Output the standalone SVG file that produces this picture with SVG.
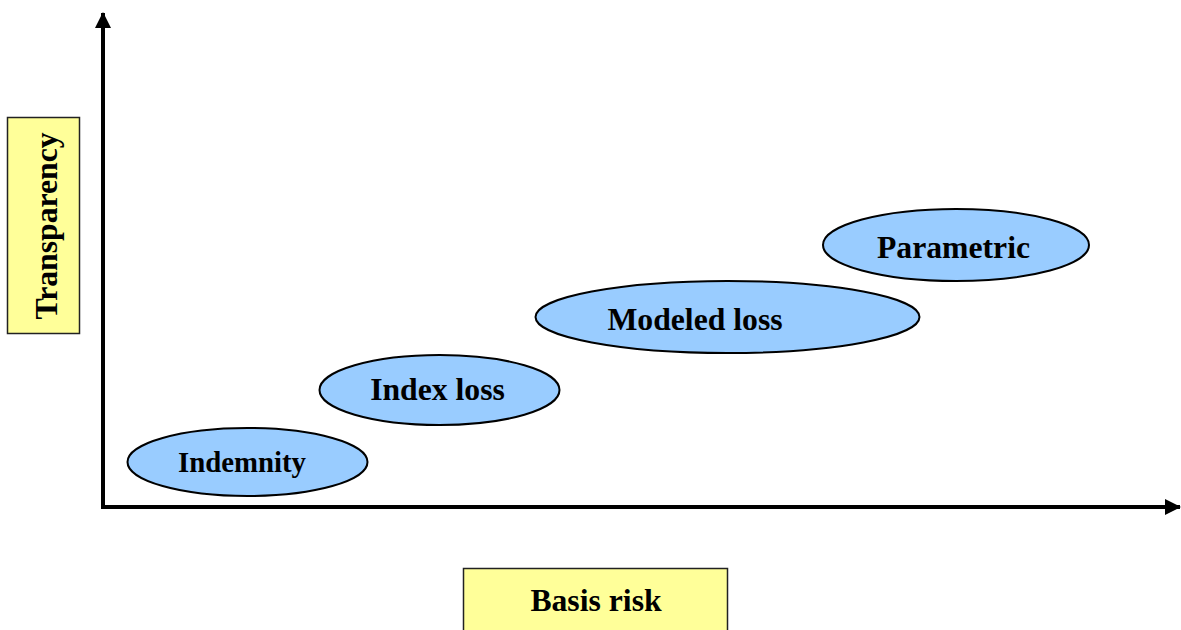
<svg xmlns="http://www.w3.org/2000/svg" width="1181" height="630" viewBox="0 0 1181 630">
<style>
.lbl{font-family:"Liberation Serif","Times New Roman",serif;font-weight:bold;font-size:31.7px;fill:#000;text-anchor:middle}
.node{fill:#99CCFF;stroke:#000;stroke-width:2}
.box{fill:#FFFF99;stroke:#222;stroke-width:1.5}
.axis{stroke:#000;stroke-width:4;fill:none}
</style>
<defs>
<marker id="ah" viewBox="0 0 16 16" refX="15" refY="8" markerWidth="16" markerHeight="16" markerUnits="userSpaceOnUse" orient="auto">
<path d="M0,0 L16,8 L0,16 Z" fill="#000"/>
</marker>
</defs>
<rect width="1181" height="630" fill="#fff"/>
<g id="connectors">
<line class="axis" x1="103" y1="509" x2="103" y2="13" marker-end="url(#ah)"/>
<line class="axis" x1="101" y1="507" x2="1180" y2="507" marker-end="url(#ah)"/>
</g>
<g id="transparency">
<rect class="box" x="7.5" y="117.5" width="72" height="216"/>
<text class="lbl" transform="translate(57,226) rotate(-90)">Transparency</text>
</g>
<g id="basis-risk">
<rect class="box" x="463.5" y="568.5" width="264" height="70"/>
<text class="lbl" x="596" y="611">Basis risk</text>
</g>
<g id="indemnity">
<ellipse class="node" cx="247.5" cy="462" rx="120" ry="34"/>
<text class="lbl" x="242" y="472" style="font-size:28.8px">Indemnity</text>
</g>
<g id="index-loss">
<ellipse class="node" cx="439.5" cy="390" rx="120" ry="35"/>
<text class="lbl" x="437.5" y="400">Index loss</text>
</g>
<g id="modeled-loss">
<ellipse class="node" cx="727.5" cy="317" rx="192" ry="36"/>
<text class="lbl" x="695" y="330">Modeled loss</text>
</g>
<g id="parametric">
<ellipse class="node" cx="956" cy="245" rx="133" ry="36"/>
<text class="lbl" x="953.5" y="258">Parametric</text>
</g>
</svg>
